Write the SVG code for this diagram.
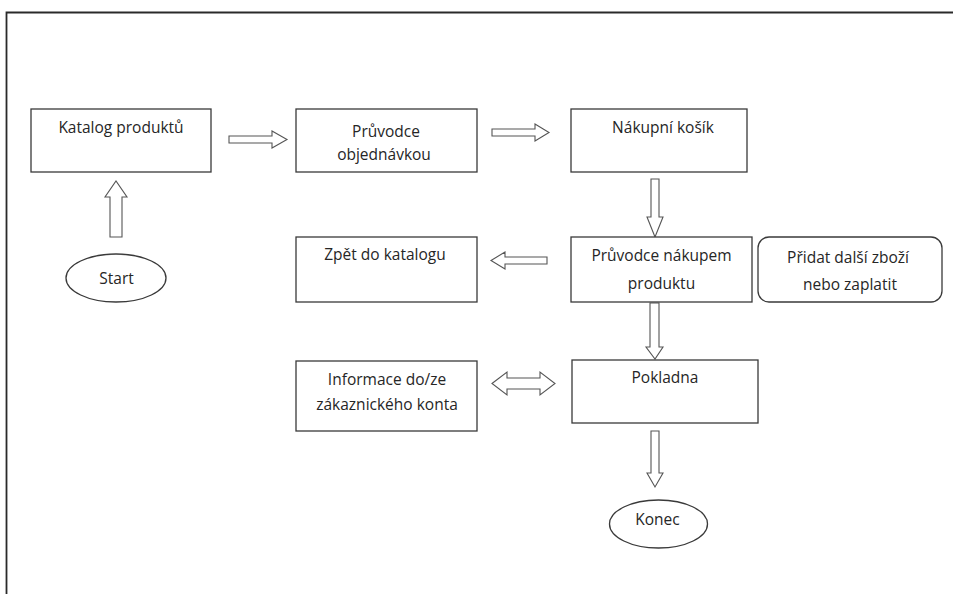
<svg xmlns="http://www.w3.org/2000/svg" width="953" height="594" viewBox="0 0 953 594">
<style>
.box{fill:#fff;stroke:#3a3a3a;stroke-width:1.3}
.arr{fill:#fff;stroke:#555;stroke-width:1.1;stroke-linejoin:miter}
text{font-family:"Open Sans","Liberation Sans",sans-serif;font-size:15.5px;fill:#262626;text-anchor:middle}
</style>
<rect width="953" height="594" fill="#fff"/>
<path d="M6.5,594 V12.5 H953" fill="none" stroke="#2a2a2a" stroke-width="1.8"/>
<g id="connectors">
<polygon class="arr" points="229,136 272,136 272,131 287,139.5 272,148 272,143 229,143"/>
<polygon class="arr" points="110,237 110,197 105,197 116,181 127,197 122,197 122,237"/>
<polygon class="arr" points="492,129 535,129 535,124 549,132.5 535,141 535,136 492,136"/>
<polygon class="arr" points="651,179 659,179 659,217 663,217 655,237 647,217 651,217"/>
<polygon class="arr" points="547,257 505,257 505,252 491,260.5 505,269 505,264 547,264"/>
<polygon class="arr" points="650,303 659,303 659,347 663,347 655,359 646,347 650,347"/>
<polygon class="arr" points="492,383.5 507,372 507,378 540,378 540,372 555,383.5 540,395 540,389 507,389 507,395"/>
<polygon class="arr" points="651,431 659,431 659,473 663,473 655,487 647,473 651,473"/>
</g>
<g id="katalog"><rect class="box" x="31" y="109" width="180" height="63"/><text x="121" y="133">Katalog produktů</text></g>
<g id="pruvodce-objednavkou"><rect class="box" x="296" y="109" width="181" height="63"/><text x="386" y="137">Průvodce</text><text x="384" y="160">objednávkou</text></g>
<g id="kosik"><rect class="box" x="571" y="109" width="176" height="63"/><text x="663" y="133">Nákupní košík</text></g>
<g id="start"><ellipse class="box" cx="116" cy="278" rx="50" ry="24"/><text x="116.5" y="284">Start</text></g>
<g id="zpet"><rect class="box" x="296" y="237" width="181" height="65"/><text x="385" y="260">Zpět do katalogu</text></g>
<g id="pruvodce-nakupem"><rect class="box" x="571" y="237" width="181" height="65"/><text x="661.5" y="261">Průvodce nákupem</text><text x="661.5" y="289">produktu</text></g>
<g id="pridat"><rect class="box" x="758" y="237" width="184" height="65" rx="11"/><text x="848" y="263">Přidat další zboží</text><text x="850" y="290">nebo zaplatit</text></g>
<g id="informace"><rect class="box" x="296" y="361" width="181" height="70"/><text x="387" y="385">Informace do/ze</text><text x="387" y="410">zákaznického konta</text></g>
<g id="pokladna"><rect class="box" x="572" y="360" width="186" height="63"/><text x="665" y="383">Pokladna</text></g>
<g id="konec"><ellipse class="box" cx="658.5" cy="524" rx="49" ry="24"/><text x="657.5" y="525">Konec</text></g>
</svg>
